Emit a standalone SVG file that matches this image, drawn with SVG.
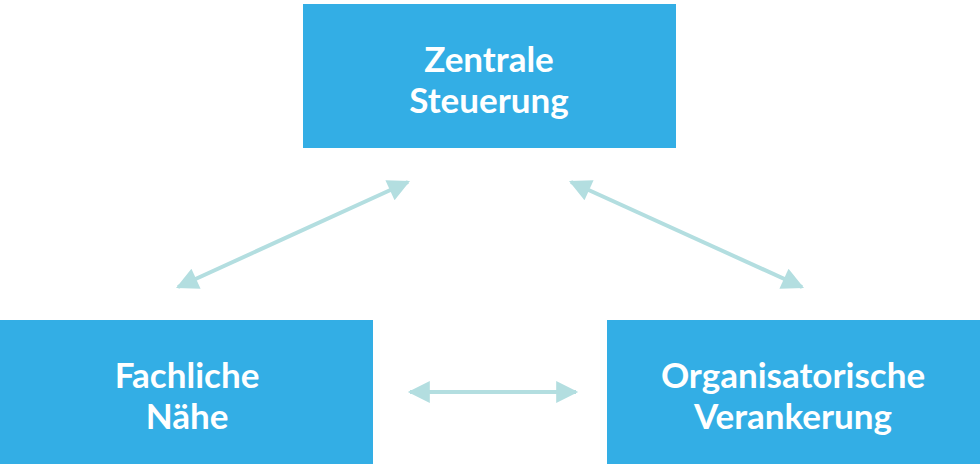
<svg xmlns="http://www.w3.org/2000/svg" width="980" height="468" viewBox="0 0 980 468">
<style>
.box{fill:#33AEE5}
.t{fill:#fff;font-family:Lato,"Open Sans",sans-serif;font-weight:bold;font-size:35px;text-anchor:middle}
.c{stroke:#B3DEE0;stroke-width:4;fill:none;marker-start:url(#ah);marker-end:url(#ah)}
</style>
<defs>
<marker id="ah" viewBox="0 0 10 10" refX="9" refY="5" markerWidth="6.5" markerHeight="5.5" markerUnits="strokeWidth" orient="auto-start-reverse">
<path d="M0,0L10,5L0,10z" fill="#B3DEE0"/>
</marker>
</defs>
<rect width="980" height="468" fill="#fff"/>
<g id="connectors">
<line class="c" x1="178" y1="287" x2="408" y2="182"/>
<line class="c" x1="571" y1="182" x2="802" y2="287"/>
<line class="c" x1="410" y1="392" x2="576" y2="392"/>
</g>
<g id="zentrale">
<rect class="box" x="303" y="4" width="373" height="144"/>
<text class="t" x="489" y="72">Zentrale</text>
<text class="t" x="489" y="113">Steuerung</text>
</g>
<g id="fachliche">
<rect class="box" x="0" y="320" width="373" height="144"/>
<text class="t" x="187" y="388">Fachliche</text>
<text class="t" x="187" y="429">Nähe</text>
</g>
<g id="organisatorische">
<rect class="box" x="607" y="320" width="373" height="144"/>
<text class="t" x="793" y="388">Organisatorische</text>
<text class="t" x="793" y="429">Verankerung</text>
</g>
</svg>
